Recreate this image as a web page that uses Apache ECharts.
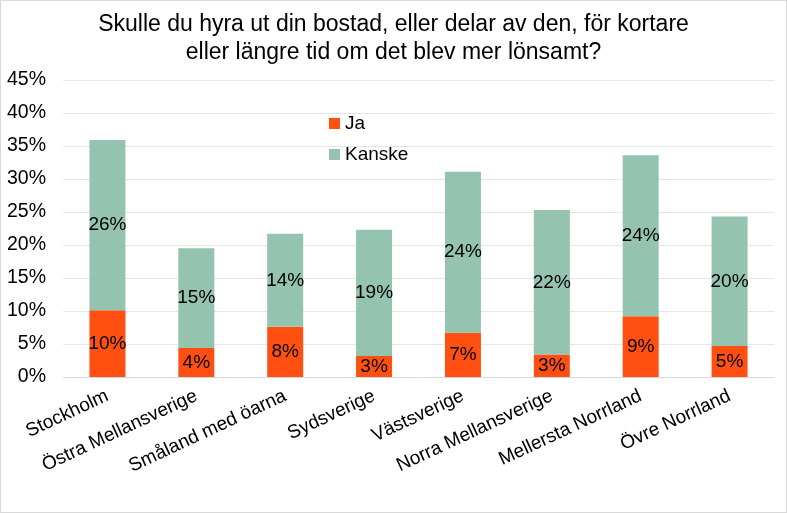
<!DOCTYPE html>
<html><head><meta charset="utf-8">
<script src="https://cdn.jsdelivr.net/npm/echarts@6/dist/echarts.min.js"></script>
<style>html,body{margin:0;padding:0;background:#fff}#c{width:787px;height:513px;box-sizing:border-box;border:1px solid #d9d9d9}</style>
</head><body><div id="c"></div>
<script>
const categories = ['Stockholm','Östra Mellansverige','Småland med öarna','Sydsverige','Västsverige','Norra Mellansverige','Mellersta Norrland','Övre Norrland'];
const ja = [10.1, 4.4, 7.6, 3.2, 6.7, 3.4, 9.2, 4.7];
const kanske = [25.8, 15.1, 14.1, 19.1, 24.4, 21.9, 24.4, 19.6];
const yTicks = [0,5,10,15,20,25,30,35,40,45];
const title = 'Skulle du hyra ut din bostad, eller delar av den, för kortare\neller längre tid om det blev mer lönsamt?';

const font = '"Liberation Sans", Arial, sans-serif';
const chart = echarts.init(document.getElementById('c'), null, {renderer:'canvas'});
const lbl = {show:true, position:'inside', color:'#000', fontSize:19, fontFamily:font,
  formatter: p => Math.round(p.value) + '%'};
chart.setOption({
  animation:false,
  title:{text:title, left:'center', top:5, textStyle:{fontFamily:font, fontSize:23, fontWeight:'normal', color:'#000', lineHeight:28}},
  legend:{orient:'vertical', left:323, top:108, itemGap:12, itemWidth:11, itemHeight:11, icon:'rect',
    textStyle:{fontFamily:font, fontSize:19, color:'#000'}, data:['Ja','Kanske']},
  grid:{left:62, right:12, top:79, bottom:135},
  xAxis:{type:'category', data:categories,
    axisLine:{lineStyle:{color:'#d9d9d9'}}, axisTick:{show:false},
    axisLabel:{rotate:25, interval:0, margin:18, fontFamily:font, fontSize:19, color:'#000'}},
  yAxis:{type:'value', min:0, max:45, interval:5,
    axisLabel:{formatter: v => yTicks.includes(v) ? v + '%' : '', fontFamily:font, fontSize:19.5, color:'#000', margin:17},
    splitLine:{lineStyle:{color:'#e6e6e6'}}, axisLine:{show:false}, axisTick:{show:false}},
  series:[
    {name:'Ja', type:'bar', stack:'a', data:ja, barWidth:36, itemStyle:{color:'#FF5012'}, label:lbl},
    {name:'Kanske', type:'bar', stack:'a', data:kanske, barWidth:36, itemStyle:{color:'#94C3AF'}, label:lbl}
  ]
});
</script></body></html>
